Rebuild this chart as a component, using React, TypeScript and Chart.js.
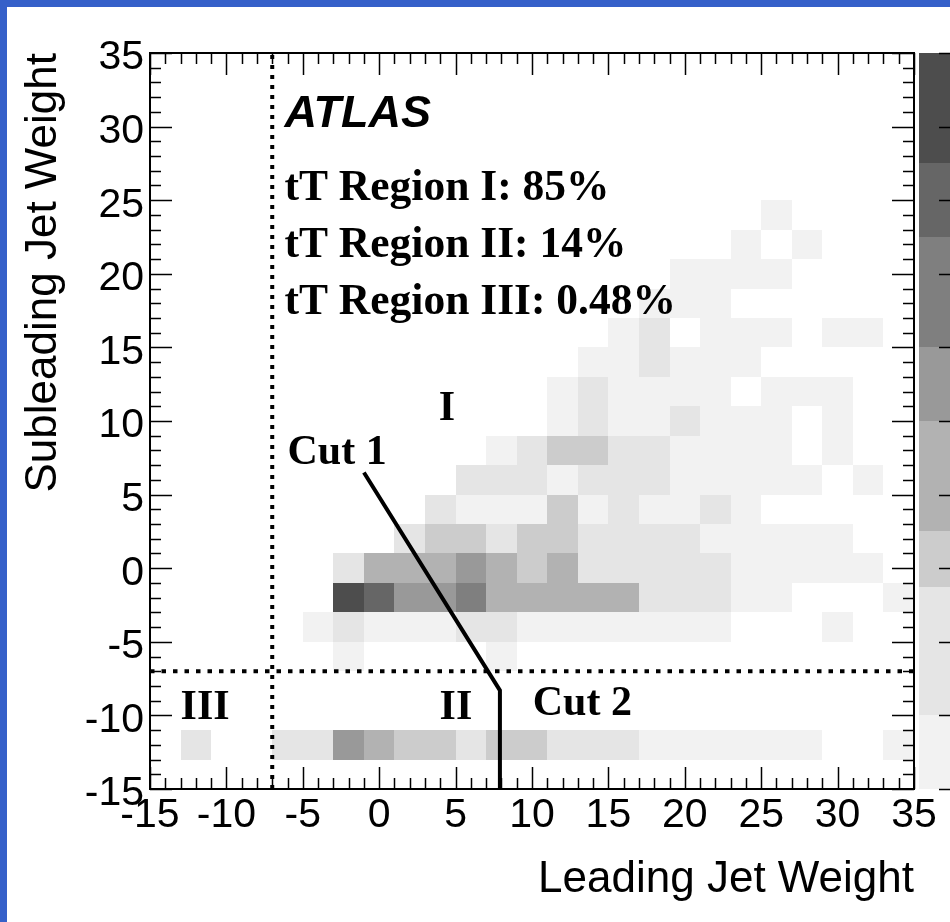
import React, { useEffect, useRef } from "react";
import { Chart, registerables } from "chart.js";

Chart.register(...registerables);

// ---- Histogram binning: 2 x 2 bins covering [-15, 35] on both axes ----
const binLow = -15;
const binWidth = 2;

// Grey palette, index 1 = lowest filled level
const levelColors = ["#f2f2f2", "#e5e5e5", "#cccccc", "#b2b2b2", "#999999", "#7f7f7f", "#666666", "#4d4d4d"];
// Colour-bar level boundaries on the z axis (axis runs 0..10)
const levelEdges = [0, 1, 2.75, 3.5, 5, 6, 7.5, 8.5, 10];
const zTicks = [0, 1, 2, 3, 4, 5, 6, 7, 8, 9, 10];

// Level of each bin; one array per y bin (named by its lower edge), index = x bin from -15
const rowYm13 = [0, 2, 0, 0, 2, 2, 5, 4, 3, 3, 2, 3, 3, 2, 2, 2, 1, 1, 1, 1, 1, 1, 0, 0, 1];
const rowYm7 = [0, 0, 0, 0, 0, 0, 1, 0, 0, 0, 0, 1, 0, 0, 0, 0, 0, 0, 0, 0, 0, 0, 0, 0, 0];
const rowYm5 = [0, 0, 0, 0, 0, 1, 2, 1, 1, 1, 2, 2, 1, 1, 1, 1, 1, 1, 1, 0, 0, 0, 1, 0, 0];
const rowYm3 = [0, 0, 0, 0, 0, 0, 8, 7, 5, 5, 6, 4, 4, 4, 4, 4, 2, 2, 2, 1, 1, 0, 0, 0, 1];
const rowYm1 = [0, 0, 0, 0, 0, 0, 2, 4, 4, 4, 5, 4, 3, 4, 2, 2, 2, 2, 2, 1, 1, 1, 1, 1, 0];
const rowY1 = [0, 0, 0, 0, 0, 0, 0, 0, 2, 3, 3, 2, 3, 3, 2, 2, 2, 2, 1, 1, 1, 1, 1, 0, 0];
const rowY3 = [0, 0, 0, 0, 0, 0, 0, 0, 0, 2, 1, 1, 1, 3, 1, 2, 1, 1, 2, 1, 0, 0, 0, 0, 0];
const rowY5 = [0, 0, 0, 0, 0, 0, 0, 0, 0, 0, 2, 2, 2, 1, 2, 2, 2, 1, 1, 1, 1, 1, 0, 1, 0];
const rowY7 = [0, 0, 0, 0, 0, 0, 0, 0, 0, 0, 0, 1, 2, 3, 3, 2, 2, 1, 1, 1, 1, 0, 1, 0, 0];
const rowY9 = [0, 0, 0, 0, 0, 0, 0, 0, 0, 0, 0, 0, 0, 1, 2, 1, 1, 2, 1, 1, 1, 0, 1, 0, 0];
const rowY11 = [0, 0, 0, 0, 0, 0, 0, 0, 0, 0, 0, 0, 0, 1, 2, 1, 1, 1, 1, 0, 1, 1, 1, 0, 0];
const rowY13 = [0, 0, 0, 0, 0, 0, 0, 0, 0, 0, 0, 0, 0, 0, 1, 1, 2, 1, 1, 1, 0, 0, 0, 0, 0];
const rowY15 = [0, 0, 0, 0, 0, 0, 0, 0, 0, 0, 0, 0, 0, 0, 0, 1, 2, 0, 1, 1, 1, 0, 1, 1, 0];
const rowY17 = [0, 0, 0, 0, 0, 0, 0, 0, 0, 0, 0, 0, 0, 0, 0, 0, 1, 1, 1, 0, 0, 0, 0, 0, 0];
const rowY19 = [0, 0, 0, 0, 0, 0, 0, 0, 0, 0, 0, 0, 0, 0, 0, 0, 0, 1, 1, 1, 1, 0, 0, 0, 0];
const rowY21 = [0, 0, 0, 0, 0, 0, 0, 0, 0, 0, 0, 0, 0, 0, 0, 0, 0, 0, 0, 1, 0, 1, 0, 0, 0];
const rowY23 = [0, 0, 0, 0, 0, 0, 0, 0, 0, 0, 0, 0, 0, 0, 0, 0, 0, 0, 0, 0, 1, 0, 0, 0, 0];

const rowsByY: [number, number[]][] = [
  [-13, rowYm13], [-7, rowYm7], [-5, rowYm5], [-3, rowYm3], [-1, rowYm1],
  [1, rowY1], [3, rowY3], [5, rowY5], [7, rowY7], [9, rowY9], [11, rowY11],
  [13, rowY13], [15, rowY15], [17, rowY17], [19, rowY19], [21, rowY21], [23, rowY23],
];

// Cut lines and region boundaries
const cutX = [-1, 7.9, 7.9];
const cutY = [6.5, -8.3, -15];
const boundaryValue = -7;

// Region efficiencies
const regionNames = ["I", "II", "III"];
const regionFractions = ["85%", "14%", "0.48%"];

const serif = "'Liberation Serif', 'Times New Roman', serif";
const sans = "'Liberation Sans', Arial, Helvetica, sans-serif";

// Text labels placed in data coordinates (left edge, baseline)
const annotations = [
  { text: "ATLAS", x: -6.2, y: 30.0, font: `italic bold 45px ${sans}` },
  { text: `tT Region ${regionNames[0]}: ${regionFractions[0]}`, x: -6.2, y: 25.0, font: `bold 43.5px ${serif}` },
  { text: `tT Region ${regionNames[1]}: ${regionFractions[1]}`, x: -6.2, y: 21.15, font: `bold 43.5px ${serif}` },
  { text: `tT Region ${regionNames[2]}: ${regionFractions[2]}`, x: -6.2, y: 17.3, font: `bold 43.5px ${serif}` },
  { text: "I", x: 3.9, y: 10.1, font: `bold 42px ${serif}` },
  { text: "Cut 1", x: -6.0, y: 7.1, font: `bold 42px ${serif}` },
  { text: "II", x: 3.95, y: -10.25, font: `bold 42px ${serif}` },
  { text: "Cut 2", x: 10.05, y: -9.95, font: `bold 42px ${serif}` },
  { text: "III", x: -13.0, y: -10.25, font: `bold 42px ${serif}` },
];

const heatmapPlugin = {
  id: "heatmap",
  beforeDatasetsDraw(chart: any) {
    const { ctx } = chart;
    const x = chart.scales.x;
    const y = chart.scales.y;
    ctx.save();
    rowsByY.forEach(([yLow, levels]) => {
      levels.forEach((lv, i) => {
        if (!lv) return;
        const xLow = binLow + i * binWidth;
        const l = Math.round(x.getPixelForValue(xLow));
        const r = Math.round(x.getPixelForValue(xLow + binWidth));
        const t = Math.round(y.getPixelForValue(yLow + binWidth));
        const b = Math.round(y.getPixelForValue(yLow));
        ctx.fillStyle = levelColors[lv - 1];
        ctx.fillRect(l, t, r - l, b - t);
      });
    });
    ctx.restore();
  },
};

const framePlugin = {
  id: "frame",
  afterDatasetsDraw(chart: any) {
    const { ctx, chartArea } = chart;
    const { left, right, top, bottom } = chartArea;
    const x = chart.scales.x;
    const y = chart.scales.y;
    ctx.save();

    // annotation text
    ctx.fillStyle = "#000";
    ctx.textBaseline = "alphabetic";
    ctx.textAlign = "left";
    annotations.forEach((a) => {
      ctx.font = a.font;
      ctx.fillText(a.text, x.getPixelForValue(a.x), y.getPixelForValue(a.y));
    });

    // ticks pointing inwards on all four sides
    ctx.strokeStyle = "#000";
    ctx.lineWidth = 1.5;
    ctx.beginPath();
    for (let v = -15; v <= 35; v++) {
      const len = v % 5 === 0 ? 22 : 11;
      const px = Math.round(x.getPixelForValue(v)) + 0.5;
      ctx.moveTo(px, bottom);
      ctx.lineTo(px, bottom - len);
      ctx.moveTo(px, top);
      ctx.lineTo(px, top + len);
      const py = Math.round(y.getPixelForValue(v)) + 0.5;
      ctx.moveTo(left, py);
      ctx.lineTo(left + len, py);
      ctx.moveTo(right, py);
      ctx.lineTo(right - len, py);
    }
    ctx.stroke();

    // frame
    ctx.lineWidth = 2;
    ctx.strokeRect(left, top, right - left, bottom - top);
    ctx.restore();
  },
  afterDraw(chart: any) {
    // colour bar of the z palette
    const { ctx } = chart;
    const z = chart.scales.z;
    const barLeft = Math.round(z.left + 5);
    const barRight = chart.width;
    ctx.save();
    for (let k = 0; k < levelColors.length; k++) {
      const t = Math.round(z.getPixelForValue(levelEdges[k + 1]));
      const b = Math.round(z.getPixelForValue(levelEdges[k]));
      ctx.fillStyle = levelColors[k];
      ctx.fillRect(barLeft, t, barRight - barLeft, b - t);
    }
    ctx.strokeStyle = "#000";
    ctx.lineWidth = 1.5;
    ctx.beginPath();
    zTicks.forEach((v) => {
      const py = Math.round(z.getPixelForValue(v)) + 0.5;
      ctx.moveTo(barRight - 11, py);
      ctx.lineTo(barRight, py);
    });
    ctx.stroke();
    ctx.restore();
  },
};

export default function App() {
  const canvasRef = useRef<HTMLCanvasElement>(null);

  useEffect(() => {
    const canvas = canvasRef.current;
    if (!canvas) return;
    Chart.defaults.font.family = sans;
    Chart.defaults.color = "#000";

    const tickFont = { family: sans, size: 41 };
    const titleFont = { family: sans, size: 44 };

    const chart = new Chart(canvas, {
      type: "scatter",
      data: {
        datasets: [
          {
            label: "Cut",
            data: cutX.map((v, i) => ({ x: v, y: cutY[i] })),
            showLine: true,
            borderColor: "#000",
            borderWidth: 4,
            pointRadius: 0,
          },
          {
            label: "Leading boundary",
            data: [
              { x: boundaryValue, y: -15 },
              { x: boundaryValue, y: 35 },
            ],
            showLine: true,
            borderColor: "#000",
            borderWidth: 4,
            borderDash: [4, 6],
            pointRadius: 0,
          },
          {
            label: "Subleading boundary",
            data: [
              { x: -15, y: boundaryValue },
              { x: 35, y: boundaryValue },
            ],
            showLine: true,
            borderColor: "#000",
            borderWidth: 4,
            borderDash: [4.5, 7],
            pointRadius: 0,
          },
        ],
      },
      options: {
        animation: false,
        responsive: false,
        devicePixelRatio: 1,
        layout: { padding: { top: 46, left: 0, right: 0, bottom: 0 } },
        plugins: {
          legend: { display: false },
          tooltip: { enabled: false },
        },
        scales: {
          x: {
            type: "linear",
            position: "bottom",
            min: -15,
            max: 35,
            grid: { display: false, drawTicks: false },
            border: { display: false },
            ticks: {
              stepSize: 5,
              autoSkip: false,
              maxRotation: 0,
              padding: 2,
              color: "#000",
              font: tickFont,
            },
            title: {
              display: true,
              text: "Leading Jet Weight",
              align: "end",
              color: "#000",
              font: titleFont,
              padding: { top: 0, bottom: 16 },
            },
            afterFit: (s: any) => {
              s.height = 133;
            },
          },
          y: {
            type: "linear",
            position: "left",
            min: -15,
            max: 35,
            grid: { display: false, drawTicks: false },
            border: { display: false },
            ticks: {
              stepSize: 5,
              autoSkip: false,
              padding: 6,
              labelOffset: 5,
              color: "#000",
              font: tickFont,
            },
            title: {
              display: true,
              text: "Subleading Jet Weight",
              align: "end",
              color: "#000",
              font: titleFont,
              padding: { top: 10, bottom: 0 },
            },
            afterFit: (s: any) => {
              s.width = 143;
            },
          },
          z: {
            type: "linear",
            position: "right",
            min: 0,
            max: 10,
            grid: { display: false, drawTicks: false },
            border: { display: false },
            ticks: { display: false },
            afterFit: (s: any) => {
              s.width = 36;
            },
          },
        },
      } as any,
      plugins: [heatmapPlugin, framePlugin],
    });

    return () => chart.destroy();
  }, []);

  return (
    <div
      style={{
        position: "absolute",
        left: 0,
        top: 0,
        width: 950,
        height: 922,
        boxSizing: "border-box",
        borderLeft: "7px solid #3560c9",
        borderTop: "7px solid #3560c9",
        background: "#fff",
        overflow: "hidden",
      }}
    >
      <canvas ref={canvasRef} width={943} height={915} style={{ display: "block", width: 943, height: 915 }} />
    </div>
  );
}
